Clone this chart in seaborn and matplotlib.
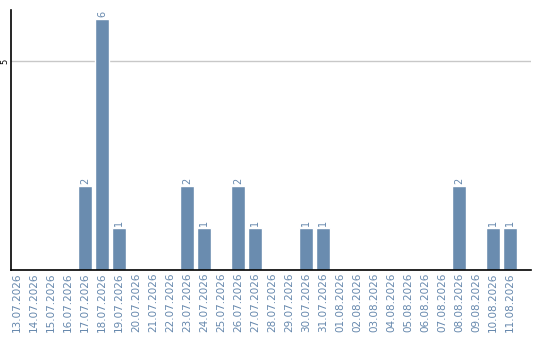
import matplotlib
matplotlib.use("Agg")
import matplotlib.pyplot as plt
import seaborn as sns
import pandas as pd

dates = ["13.07.2026", "14.07.2026", "15.07.2026", "16.07.2026", "17.07.2026",
         "18.07.2026", "19.07.2026", "20.07.2026", "21.07.2026", "22.07.2026",
         "23.07.2026", "24.07.2026", "25.07.2026", "26.07.2026", "27.07.2026",
         "28.07.2026", "29.07.2026", "30.07.2026", "31.07.2026", "01.08.2026",
         "02.08.2026", "03.08.2026", "04.08.2026", "05.08.2026", "06.08.2026",
         "07.08.2026", "08.08.2026", "09.08.2026", "10.08.2026", "11.08.2026"]
counts = [0, 0, 0, 0, 2, 6, 1, 0, 0, 0,
          2, 1, 0, 2, 1, 0, 0, 1, 1, 0,
          0, 0, 0, 0, 0, 0, 2, 0, 1, 1]

bar_color = "#6a8caf"
text_color = "#6688ad"

sns.set_style("white")
df = pd.DataFrame({"date": dates, "count": counts})

fig = plt.figure(figsize=(5.4, 3.4), dpi=100)
ax = fig.add_axes([10.5 / 540, 70 / 340, 520.5 / 540, 260 / 340])

sns.barplot(data=df, x="date", y="count", color=bar_color, saturation=1,
            width=0.82, ax=ax)

ax.set_xlim(-0.38, len(dates) - 1 + 1.24)
ax.set_ylim(0, 6.22)
ax.set_yticks([5])
ax.set_yticklabels(["5"], rotation=90, va="center", fontsize=6, color="#000000")
ax.yaxis.grid(True, color="#c8c8c8", linewidth=1)
ax.set_axisbelow(True)
ax.tick_params(axis="y", length=0, pad=1)
ax.tick_params(axis="x", length=0, pad=2, labelrotation=90, labelsize=7.5,
               labelcolor=text_color)
ax.set_xlabel("")
ax.set_ylabel("")

for s in ["top", "right"]:
    ax.spines[s].set_visible(False)
for s in ["left", "bottom"]:
    ax.spines[s].set_color("#000000")
    ax.spines[s].set_linewidth(1.2)

for i, v in enumerate(counts):
    if v > 0:
        ax.text(i, v + 0.06, str(v), rotation=90, ha="center", va="bottom",
                fontsize=7, color=text_color)

fig.savefig("out.png", dpi=100)
